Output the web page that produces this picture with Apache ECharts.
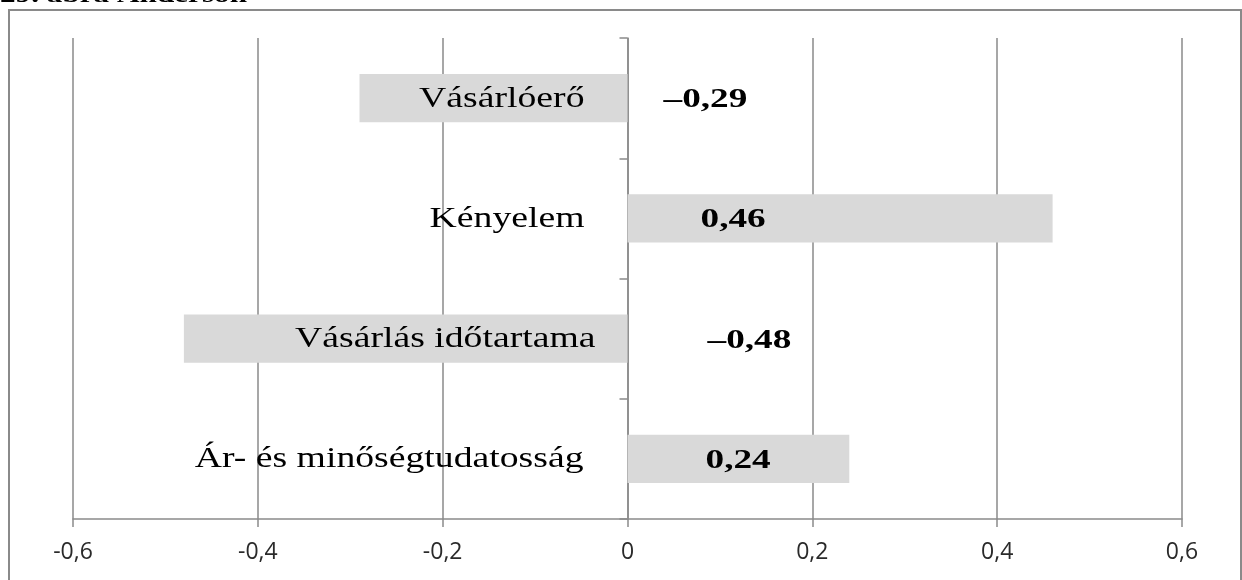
<!DOCTYPE html>
<html><head><meta charset="utf-8">
<script src="https://cdn.jsdelivr.net/npm/echarts@6/dist/echarts.min.js"></script>
<style>html,body{margin:0;padding:0;background:#fff}#c{width:1242px;height:580px}</style>
</head><body><div id="c"></div>
<script>
const categories = ['Vásárlóerő', 'Kényelem', 'Vásárlás időtartama', 'Ár- és minőségtudatosság'];
const values = [-0.29, 0.46, -0.48, 0.24];
const xTicks = [-0.6, -0.4, -0.2, 0, 0.2, 0.4, 0.6];
const titleText = '29. ábra Anderson';

const fmt = v => (v < 0 ? '–' : '') + Math.abs(v).toFixed(2).replace('.', ',');
// horizontal offsets (px) of the text from the zero line
const valueOffset = [36, 73, 80, 78];
const catOffset = [43, 43, 32, 44];

const chart = echarts.init(document.getElementById('c'));
const baseGraphic = [
  {type: 'rect', shape: {x: 9, y: 10, width: 1232, height: 620}, style: {fill: 'none', stroke: '#8a8a8a', lineWidth: 2}, silent: true, z: -1},
  {type: 'text', x: 0, y: 8, scaleX: 1.3, style: {text: titleText, font: 'bold 24px "Liberation Serif"', fill: '#000', textAlign: 'left', textVerticalAlign: 'bottom'}}
];
chart.setOption({
  animation: false,
  grid: {left: 73, right: 60, top: 38, bottom: 61, outerBoundsMode: 'none', containLabel: false},
  xAxis: {
    type: 'value', min: xTicks[0], max: xTicks[xTicks.length - 1], interval: 0.2,
    axisLine: {show: true, lineStyle: {color: '#8a8a8a', width: 1.5}},
    axisTick: {show: true, length: 8, lineStyle: {color: '#8a8a8a', width: 1.5}},
    splitLine: {show: true, lineStyle: {color: '#8a8a8a', width: 1.5}},
    axisLabel: {
      margin: 22, fontFamily: 'Open Sans', fontSize: 23, color: '#2a2a2a',
      formatter: v => {
        const r = Math.round(v * 10) / 10;
        return r === 0 ? '0' : String(r).replace('.', ',');
      }
    }
  },
  yAxis: {
    type: 'category', inverse: true, data: categories,
    axisLine: {show: true, onZero: true, lineStyle: {color: '#8a8a8a', width: 1.5}},
    axisTick: {show: true, length: 8, lineStyle: {color: '#8a8a8a', width: 1.5}},
    splitLine: {show: false},
    axisLabel: {show: false}
  },
  series: [{
    type: 'bar', barCategoryGap: '60%', z: 1,
    itemStyle: {color: '#d9d9d9'},
    label: {show: false},
    data: values
  }],
  graphic: baseGraphic
});

// text placed through the library's own scales
const x0 = chart.convertToPixel({xAxisIndex: 0}, 0);
const texts = [];
categories.forEach((c, i) => {
  const y = chart.convertToPixel({yAxisIndex: 0}, i);
  texts.push({
    type: 'text', x: x0 - catOffset[i], y: y + 1, scaleX: 1.3, z: 10,
    style: {text: c, font: '29px "Liberation Serif"', fill: '#000', textAlign: 'right', textVerticalAlign: 'middle'}
  });
  texts.push({
    type: 'text', x: x0 + valueOffset[i], y: y + 2, scaleX: 1.38, z: 10,
    style: {text: fmt(values[i]), font: 'bold 27px "Liberation Serif"', fill: '#000', textAlign: 'left', textVerticalAlign: 'middle'}
  });
});
chart.setOption({graphic: baseGraphic.concat(texts)});
</script></body></html>
